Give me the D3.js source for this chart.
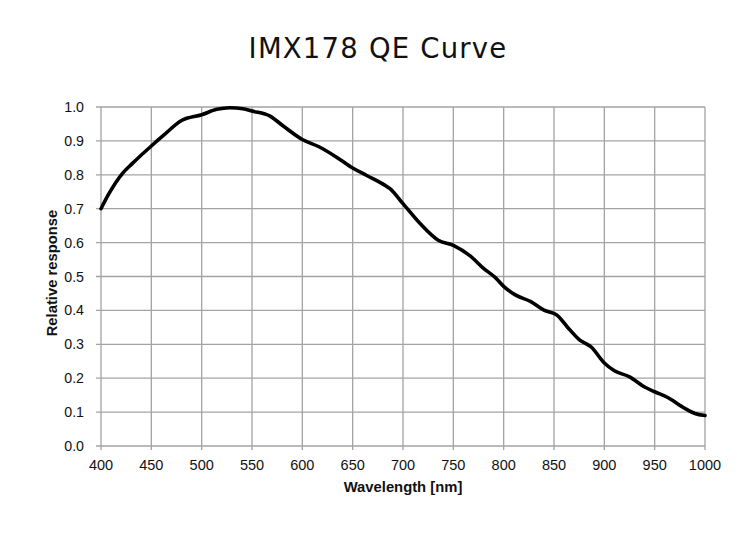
<!DOCTYPE html>
<html>
<head>
<meta charset="utf-8">
<script src="https://cdn.jsdelivr.net/npm/d3@7"></script>
<style>
  body { margin: 0; background: #fff; }
  svg { display: block; }
</style>
</head>
<body>
<script>
//chart data
var wavelength = [400, 408, 421, 431, 450, 462, 480, 500, 515, 528, 541, 550, 568, 581, 600, 617, 634, 650, 664, 681, 687, 700,
                  717, 735, 750, 767, 780, 792, 800, 812, 827, 840, 853, 863, 875, 887, 900, 910, 925, 940, 950, 963, 980, 990, 1000];
var response = [0.70, 0.745, 0.803, 0.833, 0.885, 0.916, 0.96, 0.977, 0.993, 0.998, 0.995, 0.988, 0.973, 0.944, 0.904, 0.882, 0.852, 0.82, 0.798, 0.771, 0.759, 0.715,
                0.656, 0.607, 0.592, 0.56, 0.524, 0.496, 0.471, 0.445, 0.426, 0.401, 0.386, 0.352, 0.314, 0.292, 0.245, 0.222, 0.204, 0.174, 0.16, 0.143, 0.111, 0.096, 0.090];
var xTicks = [400, 450, 500, 550, 600, 650, 700, 750, 800, 850, 900, 950, 1000];
var yTicks = [0, 0.1, 0.2, 0.3, 0.4, 0.5, 0.6, 0.7, 0.8, 0.9, 1.0];

var width = 750, height = 555;
var margin = {left: 101, right: 45, top: 107, bottom: 109};

var svg = d3.select("body").append("svg")
    .attr("width", width)
    .attr("height", height);

var x = d3.scaleLinear().domain([400, 1000]).range([margin.left, width - margin.right]);
var y = d3.scaleLinear().domain([0, 1]).range([height - margin.bottom, margin.top]);

//grid lines
svg.append("g").selectAll("line.v")
    .data(xTicks).enter().append("line")
    .attr("x1", function(d){ return x(d); })
    .attr("x2", function(d){ return x(d); })
    .attr("y1", y(0) + 4).attr("y2", y(1))
    .attr("stroke", "#a3a3a3").attr("stroke-width", 1.3);

svg.append("g").selectAll("line.h")
    .data(yTicks).enter().append("line")
    .attr("x1", x(400) - 5).attr("x2", x(1000))
    .attr("y1", function(d){ return y(d); })
    .attr("y2", function(d){ return y(d); })
    .attr("stroke", "#a3a3a3").attr("stroke-width", 1.3);

//tick labels
svg.append("g").selectAll("text")
    .data(xTicks).enter().append("text")
    .attr("x", function(d){ return x(d); })
    .attr("y", 469.5)
    .attr("text-anchor", "middle")
    .attr("font-family", "Liberation Sans, Arial, sans-serif")
    .attr("font-size", 14.5)
    .attr("fill", "#111")
    .text(function(d){ return d; });

svg.append("g").selectAll("text")
    .data(yTicks).enter().append("text")
    .attr("x", x(400) - 17)
    .attr("y", function(d){ return y(d) + 5; })
    .attr("text-anchor", "end")
    .attr("font-family", "Liberation Sans, Arial, sans-serif")
    .attr("font-size", 14.2)
    .attr("fill", "#111")
    .text(function(d){ return d3.format(".1f")(d); });

//axis titles
svg.append("text")
    .attr("x", 403).attr("y", 492)
    .attr("text-anchor", "middle")
    .attr("font-family", "Liberation Sans, Arial, sans-serif")
    .attr("font-weight", "bold")
    .attr("font-size", 14.8)
    .attr("fill", "#111")
    .text("Wavelength [nm]");

svg.append("text")
    .attr("transform", "translate(57,273) rotate(-90)")
    .attr("text-anchor", "middle")
    .attr("font-family", "Liberation Sans, Arial, sans-serif")
    .attr("font-weight", "bold")
    .attr("font-size", 14.8)
    .attr("fill", "#111")
    .text("Relative response");

//chart title
svg.append("text")
    .attr("x", 378).attr("y", 57.5)
    .attr("text-anchor", "middle")
    .attr("font-family", "DejaVu Sans, sans-serif")
    .attr("font-size", 27.5)
    .attr("letter-spacing", 1.2)
    .attr("fill", "#111")
    .text("IMX178 QE Curve");

//QE curve
var points = wavelength.map(function(w, i){ return [w, response[i]]; });
var line = d3.line()
    .x(function(d){ return x(d[0]); })
    .y(function(d){ return y(d[1]); })
    .curve(d3.curveMonotoneX);

svg.append("path")
    .datum(points)
    .attr("d", line)
    .attr("fill", "none")
    .attr("stroke", "#000")
    .attr("stroke-width", 3.6)
    .attr("stroke-linejoin", "round")
    .attr("stroke-linecap", "round");
</script>
</body>
</html>
